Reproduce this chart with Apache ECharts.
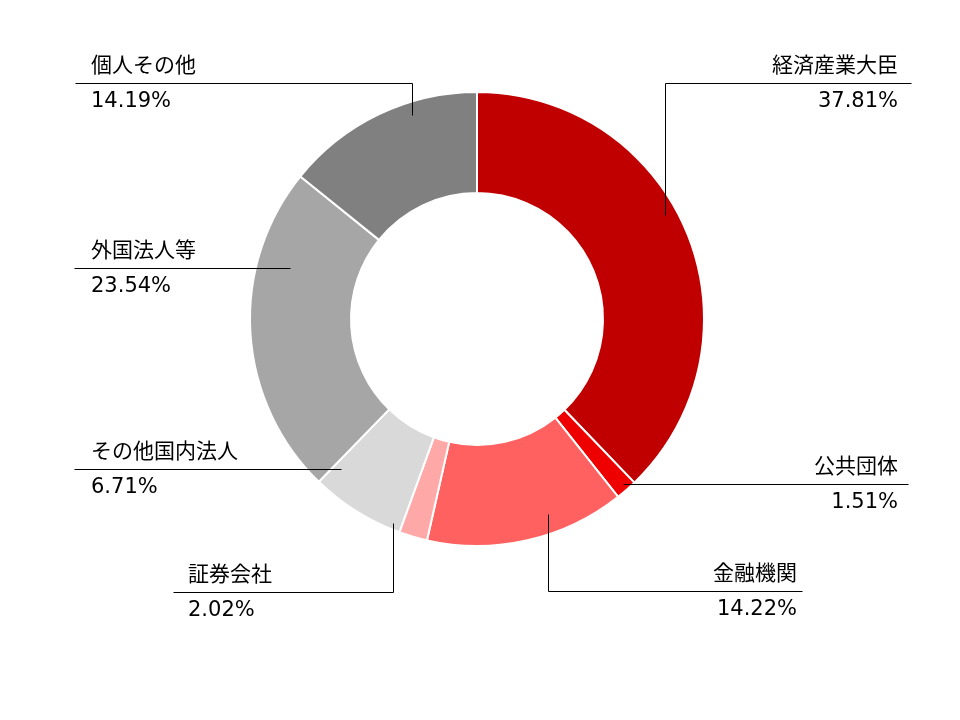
<!DOCTYPE html>
<html>
<head>
<meta charset="utf-8">
<script src="https://cdn.jsdelivr.net/npm/echarts@6/dist/echarts.min.js"></script>
<style>
html,body{margin:0;padding:0;background:#fff;}
#chart{width:960px;height:720px;}
</style>
</head>
<body>
<div id="chart"></div>
<script>
// ---- data ----
const categories = ['経済産業大臣', '公共団体', '金融機関', '証券会社', 'その他国内法人', '外国法人等', '個人その他'];
const shares = [37.81, 1.51, 14.22, 2.02, 6.71, 23.54, 14.19];

// ---- styles ----
const colors = ['#C00000', '#EE0000', '#FF6161', '#FFA8A8', '#D9D9D9', '#A6A6A6', '#808080'];

// ---- label / leader-line layout (annotation placement, pixels) ----
const labelLayouts = [
  { tx: 898, align: 'right', y: 83,  pts: [[665, 215], [665, 83], [911, 83]] },
  { tx: 898, align: 'right', y: 484, pts: [[623, 484], [623, 484], [908, 484]] },
  { tx: 797, align: 'right', y: 591, pts: [[548, 514], [548, 591], [802, 591]] },
  { tx: 188, align: 'left',  y: 592, pts: [[393, 523], [393, 592], [173, 592]] },
  { tx: 91,  align: 'left',  y: 469, pts: [[341, 469], [341, 469], [74, 469]] },
  { tx: 91,  align: 'left',  y: 268, pts: [[290, 268], [290, 268], [74, 268]] },
  { tx: 91,  align: 'left',  y: 83,  pts: [[412, 115], [412, 83], [75, 83]] }
];

const chart = echarts.init(document.getElementById('chart'), null, { renderer: 'canvas' });

const sliceData = categories.map((name, i) => ({
  name: name,
  value: shares[i],
  itemStyle: { color: colors[i] }
}));

const labelData = categories.map((name, i) => ({
  name: name,
  value: shares[i],
  itemStyle: { color: 'rgba(0,0,0,0)', borderWidth: 0 },
  label: {
    align: labelLayouts[i].align,
    rich: {
      n: { align: labelLayouts[i].align },
      p: { align: labelLayouts[i].align }
    }
  }
}));

const common = {
  type: 'pie',
  center: [477, 319],
  radius: [126, 227],
  startAngle: 90,
  clockwise: true,
  avoidLabelOverlap: false,
  silent: true,
  emphasis: { disabled: true }
};

chart.setOption({
  animation: false,
  backgroundColor: '#ffffff',
  series: [
    Object.assign({}, common, {
      z: 2,
      itemStyle: { borderColor: '#ffffff', borderWidth: 2 },
      label: { show: false },
      labelLine: { show: false },
      data: sliceData
    }),
    Object.assign({}, common, {
      z: 5,
      label: {
        show: true,
        position: 'outer',
        formatter: function (p) {
          return '{n|' + p.name + '}\n{p|' + p.value.toFixed(2) + '%}';
        },
        rich: {
          n: { fontFamily: 'Noto Sans CJK JP', fontSize: 21, color: '#000000', lineHeight: 37 },
          p: { fontFamily: 'DejaVu Sans', fontSize: 21, color: '#000000', lineHeight: 37 }
        }
      },
      labelLine: {
        show: true,
        smooth: false,
        length: 10,
        length2: 10,
        lineStyle: { color: '#000000', width: 1 }
      },
      labelLayout: function (params) {
        const L = labelLayouts[params.dataIndex];
        return {
          x: L.tx,
          y: L.y,
          align: L.align,
          verticalAlign: 'middle',
          labelLinePoints: L.pts.map(p => [p[0] + 0.5, p[1] + 0.5])
        };
      },
      data: labelData
    })
  ]
});
</script>
</body>
</html>
